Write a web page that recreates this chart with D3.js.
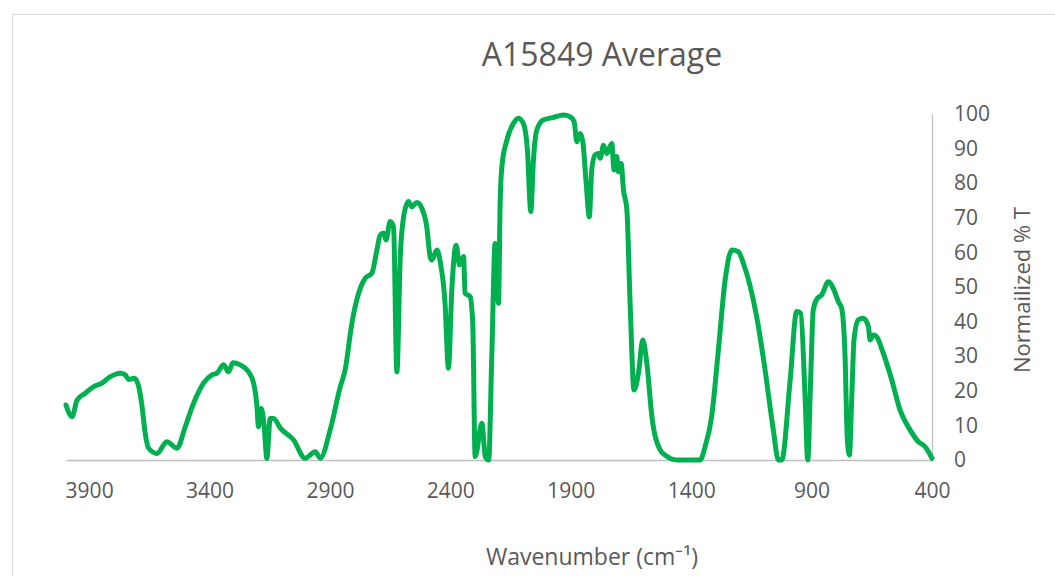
<!DOCTYPE html>
<html>
<head>
<meta charset="utf-8">
<script src="https://cdn.jsdelivr.net/npm/d3@7"></script>
<style>
  body { margin: 0; background: #fff; }
  text { font-family: "Open Sans", sans-serif; fill: #595959; }
</style>
</head>
<body>
<div id="chart"></div>
<script>
// FTIR spectrum, values
const wavenumbers = [
  3996, 3971, 3950, 3916, 3881, 3847, 3812, 3771, 3750, 3736, 3712, 3694, 3680, 3667, 3653,
  3618, 3577, 3535, 3501, 3466, 3425, 3390, 3369, 3342, 3321, 3303, 3273, 3238, 3217, 3203,
  3197, 3185, 3173, 3162, 3148, 3134, 3106, 3051, 3003, 2961, 2940, 2899, 2857, 2837, 2809,
  2781, 2754, 2726, 2705, 2691, 2677, 2667, 2650, 2636, 2622, 2608, 2594, 2574, 2560, 2539,
  2518, 2498, 2484, 2477, 2456, 2442, 2422, 2408, 2394, 2376, 2362, 2345, 2339, 2318, 2307,
  2297, 2269, 2255, 2241, 2228, 2214, 2200, 2193, 2186, 2165, 2138, 2117, 2097, 2080, 2066,
  2055, 2041, 2014, 1972, 1931, 1903, 1886, 1875, 1861, 1850, 1836, 1823, 1813, 1799, 1785,
  1778, 1764, 1750, 1730, 1720, 1709, 1702, 1691, 1681, 1667, 1654, 1637, 1619, 1601, 1584,
  1563, 1529, 1508, 1460, 1363, 1342, 1315, 1287, 1259, 1231, 1204, 1183, 1128, 1093, 1059,
  1038, 1024, 989, 962, 945, 927, 916, 904, 893, 876, 858, 830, 807, 789, 775,
  761, 752, 743, 733, 724, 706, 685, 664, 657, 644, 630, 602, 567, 533, 491,
  457, 429, 400
];
const transmittance = [
  15.9, 12.5, 17.3, 19.3, 21.2, 22.2, 24.1, 25.1, 24.6, 23.3, 23.6, 21.2, 15.4, 7.7, 3.4,
  1.9, 5.3, 3.4, 9.6, 16.4, 22.2, 24.6, 25.1, 27.5, 25.5, 28.1, 27.5, 25.5, 22.2, 15.4,
  9.6, 14.9, 9.6, 0.5, 12, 12, 9.2, 5.8, 0.5, 2.4, 0.5, 8.7, 21.2, 26, 39.5,
  48.2, 52.5, 54, 60.7, 65, 65.5, 63.6, 68.9, 67.4, 25.5, 58.8, 70.3, 74.7, 73.2, 74.4,
  72.7, 67.4, 58.8, 57.8, 60.7, 57.3, 45.3, 26.5, 49.1, 62.1, 56.4, 58.8, 48.2, 47.2, 39.5,
  1, 10.6, 1, 0, 29.9, 62.6, 45.3, 75.1, 84.8, 92.5, 97.3, 98.8, 97.3, 89.6, 71.8,
  86.7, 95.4, 98.3, 99, 99.7, 99.2, 97.8, 92, 94.4, 92, 80, 70.3, 83.8, 88.2, 88.6,
  87.2, 91, 88.6, 91.5, 83.8, 87.7, 83.3, 85.7, 78, 72.3, 46.2, 20.2, 25.1, 34.7, 27.9,
  12.5, 2.9, 1.4, 0, 0, 3.9, 12.5, 31.8, 52, 60.7, 60.2, 56.8, 41.4, 26, 8.7,
  0, 0, 23.1, 42.9, 42.4, 18.3, 0, 23.1, 43.4, 46.7, 47.7, 51.5, 49.1, 45.8, 43.8,
  29.9, 6.7, 1.4, 18.3, 34.7, 40.5, 41, 38.5, 34.7, 36.1, 35.6, 30.8, 23.1, 14.5, 8.7,
  5.3, 3.9, 0.5
];
const xTicks = [3900, 3400, 2900, 2400, 1900, 1400, 900, 400];
const yTicks = [0, 10, 20, 30, 40, 50, 60, 70, 80, 90, 100];

const width = 1055, height = 576;
const plot = { left: 66, right: 932, top: 114, bottom: 460 };

const svg = d3.select("#chart").append("svg")
    .attr("width", width)
    .attr("height", height);

// chart area border
svg.append("rect")
    .attr("x", 12.5).attr("y", 14.5)
    .attr("width", 1100).attr("height", 620)
    .attr("fill", "none")
    .attr("stroke", "#d9d9d9")
    .attr("stroke-width", 1);

// x runs high -> low wavenumber
const x = d3.scaleLinear().domain([3996, 400]).range([plot.left, plot.right]);
const y = d3.scaleLinear().domain([0, 100]).range([plot.bottom, plot.top]);

// x axis, labels only
const xAxis = svg.append("g")
    .attr("transform", "translate(0," + plot.bottom + ")")
    .call(d3.axisBottom(x).tickValues(xTicks).tickSize(0).tickPadding(0).tickFormat(d3.format("d")));
xAxis.select(".domain").attr("stroke", "#bfbfbf").attr("stroke-width", 1.3);
xAxis.selectAll("text")
    .attr("dy", null)
    .attr("y", 38)
    .style("font-size", "21px")
    .style("font-family", "'Open Sans', sans-serif")
    .attr("fill", "#595959");

// y axis on the right
const yAxis = svg.append("g")
    .attr("transform", "translate(" + plot.right + ",0)")
    .call(d3.axisRight(y).tickValues(yTicks).tickSize(0).tickPadding(22));
yAxis.select(".domain").attr("stroke", "#bfbfbf").attr("stroke-width", 1.3);
yAxis.selectAll("text")
    .style("font-size", "21px")
    .style("font-family", "'Open Sans', sans-serif")
    .attr("fill", "#595959");

// spectrum line
const data = wavenumbers.map((w, i) => ({ w: w, t: transmittance[i] }));
const line = d3.line()
    .x(d => x(d.w))
    .y(d => y(d.t))
    .curve(d3.curveMonotoneX);

svg.append("path")
    .datum(data)
    .attr("d", line)
    .attr("fill", "none")
    .attr("stroke", "#00b050")
    .attr("stroke-width", 5)
    .attr("stroke-linejoin", "round")
    .attr("stroke-linecap", "round");

// titles
svg.append("text")
    .attr("x", 602).attr("y", 66)
    .attr("text-anchor", "middle")
    .style("font-size", "32px")
    .text("A15849 Average");

svg.append("text")
    .attr("x", 592).attr("y", 565)
    .attr("text-anchor", "middle")
    .style("font-size", "23px")
    .text("Wavenumber (cm\u207B\u00B9)");

svg.append("text")
    .attr("transform", "translate(1030,290) rotate(-90)")
    .attr("text-anchor", "middle")
    .style("font-size", "22px")
    .text("Normailized % T");
</script>
</body>
</html>
